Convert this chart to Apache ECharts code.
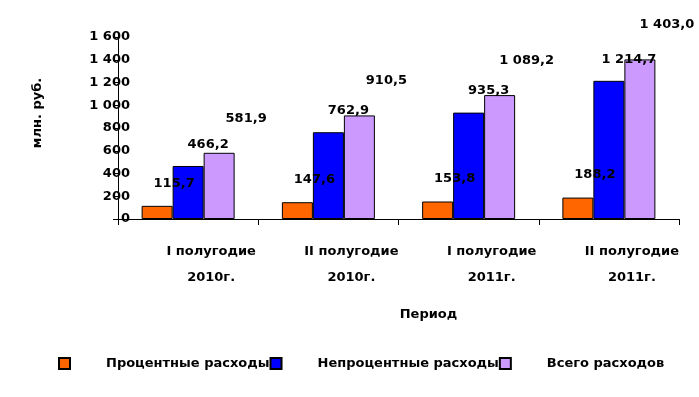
<!DOCTYPE html>
<html>
<head>
<meta charset="utf-8">
<script src="https://cdn.jsdelivr.net/npm/echarts@6/dist/echarts.min.js"></script>
<style>
  html, body { margin: 0; padding: 0; background: #fff; }
  #chart { width: 699px; height: 397px; }
</style>
</head>
<body>
<div id="chart"></div>
<script>
// data
const categories = ['I полугодие\n2010г.', 'II полугодие\n2010г.', 'I полугодие\n2011г.', 'II полугодие\n2011г.']
const interestCosts = [115.7, 147.6, 153.8, 188.2]
const nonInterestCosts = [466.2, 762.9, 935.3, 1214.7]
const totalCosts = [581.9, 910.5, 1089.2, 1403.0]
const seriesNames = ['Процентные расходы', 'Непроцентные расходы', 'Всего расходов']

const FONT = 'DejaVu Sans'

// 1403.0 -> "1 403,0"
const fmtNum = (v, digits) => {
  const parts = v.toFixed(digits).split('.')
  parts[0] = parts[0].replace(/\B(?=(\d{3})+(?!\d))/g, ' ')
  return parts.join(',')
}

const labelStyle = (dx, dy) => ({
  show: true,
  position: 'top',
  offset: [dx, dy],
  color: '#000',
  fontFamily: FONT,
  fontWeight: 'bold',
  fontSize: 13,
  formatter: p => fmtNum(p.value, 1)
})

const barSeries = (name, data, color, dx, dy) => ({
  name: name,
  type: 'bar',
  data: data,
  barWidth: 31,
  barGap: 0,
  itemStyle: { color: color, borderColor: '#000', borderWidth: 1 },
  label: labelStyle(dx, dy)
})

const chart = echarts.init(document.getElementById('chart'), null, { renderer: 'canvas' })

const option = {
  backgroundColor: '#fff',
  animation: false,
  textStyle: { fontFamily: FONT },
  grid: { left: 118, right: 20, top: 37, bottom: 178 },
  legend: {
    left: 58,
    top: 357,
    padding: 0,
    icon: 'rect',
    itemWidth: 11,
    itemHeight: 11,
    itemGap: 0,
    textStyle: {
      color: '#000',
      fontFamily: FONT,
      fontWeight: 'bold',
      fontSize: 13,
      padding: [0, 0, 0, 31]
    },
    // widths include the left padding; long names get cut by the next box
    data: [
      { name: seriesNames[0], textStyle: { width: 190, overflow: 'truncate', ellipsis: '' } },
      { name: seriesNames[1], textStyle: { width: 213, overflow: 'truncate', ellipsis: '' } },
      { name: seriesNames[2] }
    ]
  },
  xAxis: {
    type: 'category',
    data: categories,
    name: 'Период',
    nameLocation: 'middle',
    nameGap: 89,
    nameTextStyle: { color: '#000', fontFamily: FONT, fontWeight: 'bold', fontSize: 13, padding: [0, 0, 0, 60] },
    axisLine: { lineStyle: { color: '#000', width: 1 } },
    axisTick: { show: true, length: 6, lineStyle: { color: '#000' } },
    axisLabel: {
      color: '#000',
      fontFamily: FONT,
      fontWeight: 'bold',
      fontSize: 13,
      lineHeight: 26,
      margin: 20,
      padding: [0, 0, 0, 46]
    }
  },
  yAxis: {
    type: 'value',
    min: 0,
    max: 1600,
    interval: 200,
    name: 'млн. руб.',
    nameLocation: 'middle',
    nameGap: 74,
    nameTextStyle: { color: '#000', fontFamily: FONT, fontWeight: 'bold', fontSize: 13, padding: [0, 0, 0, 30] },
    axisLine: { show: true, lineStyle: { color: '#000', width: 1 } },
    axisTick: { show: true, length: 5, lineStyle: { color: '#000' } },
    splitLine: { show: false },
    axisLabel: {
      color: '#000',
      fontFamily: FONT,
      fontWeight: 'bold',
      fontSize: 13,
      margin: -12,
      formatter: v => fmtNum(v, 0)
    }
  },
  series: [
    barSeries(seriesNames[0], interestCosts, '#FF6600', 17, -11),
    barSeries(seriesNames[1], nonInterestCosts, '#0000FF', 20, -10),
    barSeries(seriesNames[2], totalCosts, '#CC99FF', 27, -23)
  ]
}

chart.setOption(option)
</script>
</body>
</html>
